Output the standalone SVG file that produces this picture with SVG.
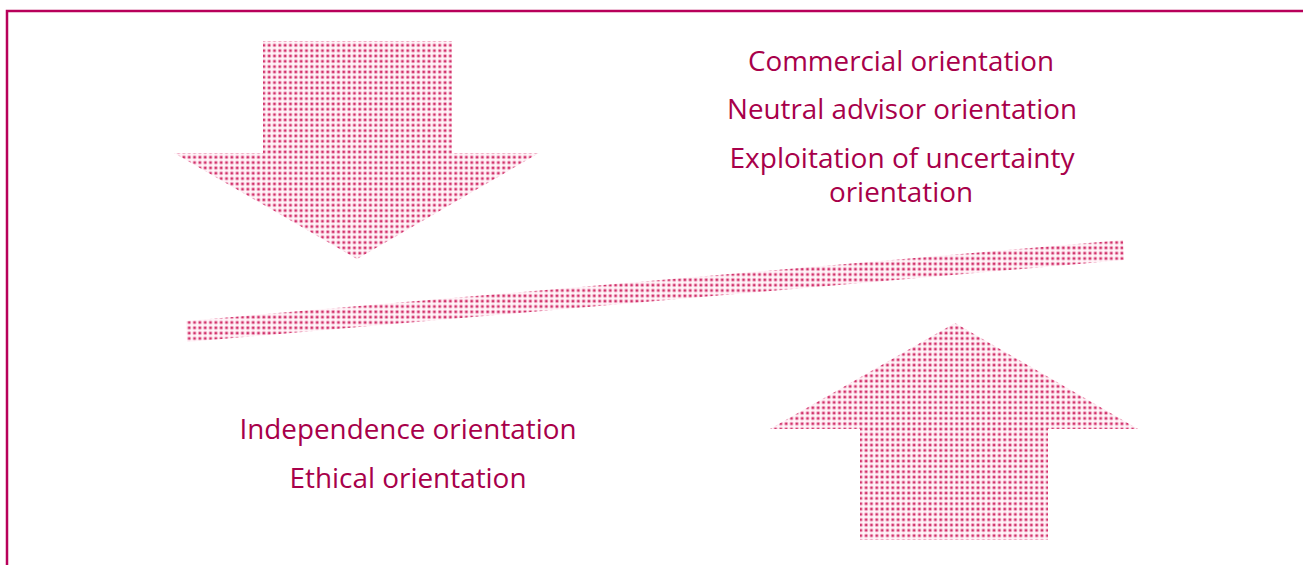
<svg xmlns="http://www.w3.org/2000/svg" width="1303" height="565" viewBox="0 0 1303 565">
<style>
.t{font-family:"Open Sans","Liberation Sans",sans-serif;font-size:27px;fill:#A8004A;text-anchor:middle}
.sh{fill:url(#dots)}
.frame{fill:none;stroke:#B8005A;stroke-width:2.5}
</style>
<defs>
<pattern id="dots" x="0" y="0" width="5.33" height="5.33" patternUnits="userSpaceOnUse">
<rect width="5.33" height="5.33" fill="#FFF4F8"/>
<circle cx="2.66" cy="2.66" r="2" fill="#F0A8C2"/>
<circle cx="2.66" cy="2.66" r="1.2" fill="#D0306A"/>
</pattern>
</defs>
<path class="frame" d="M7,565 V11 H1303"/>
<g id="arrow-down"><polygon class="sh" points="263,41 452,41 452,153 539,153 357,259 174,153 263,153"/></g>
<g id="arrow-up"><polygon class="sh" points="955,323 1138,429 1048,429 1048,540 860,540 860,429 770,429"/></g>
<g id="beam"><polygon class="sh" points="186,321 1123,240 1124,260 187,342"/></g>
<g id="top-labels">
<text class="t" x="901" y="71" textLength="306" lengthAdjust="spacingAndGlyphs">Commercial orientation</text>
<text class="t" x="902" y="119" textLength="350" lengthAdjust="spacingAndGlyphs">Neutral advisor orientation</text>
<text class="t" x="902" y="168" textLength="345" lengthAdjust="spacingAndGlyphs">Exploitation of uncertainty</text>
<text class="t" x="901" y="202" textLength="144" lengthAdjust="spacingAndGlyphs">orientation</text>
</g>
<g id="bottom-labels">
<text class="t" x="408" y="439" textLength="337" lengthAdjust="spacingAndGlyphs">Independence orientation</text>
<text class="t" x="408" y="488" textLength="237" lengthAdjust="spacingAndGlyphs">Ethical orientation</text>
</g>
</svg>
